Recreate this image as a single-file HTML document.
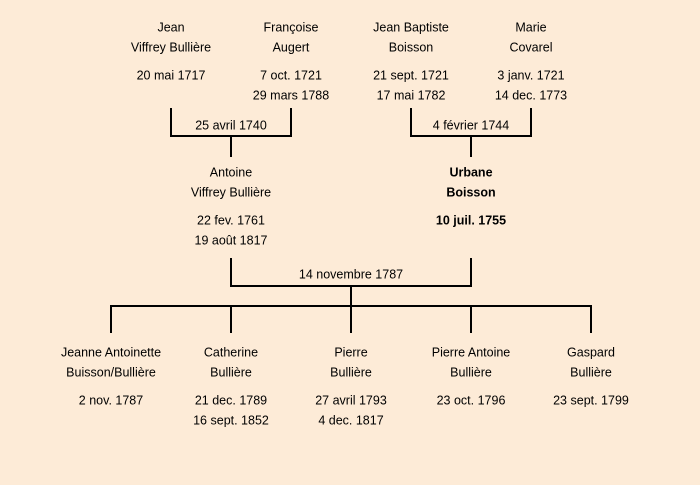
<!DOCTYPE html>
<html><head><meta charset="utf-8"><style>
html,body{margin:0;padding:0;background:#fdebd7;}
svg{display:block}
text{font-family:"Liberation Sans",sans-serif;font-size:12.5px;fill:#000;text-anchor:middle;dominant-baseline:middle}
.b{font-weight:bold}
</style></head><body>
<svg width="700" height="485" viewBox="0 0 700 485">
<rect width="700" height="485" fill="#fdebd7"/>
<g stroke="#000" stroke-width="2" fill="none">
<path d="M171 108V136H291V108M231 136V157"/>
<path d="M411 108V136H531V108M471 136V157"/>
<path d="M231 258V286H471V258M351 286V306"/>
<path d="M111 333V306H591V333M231 306V333M351 306V333M471 306V333"/>
</g>
<g transform="translate(0,1)">
<text x="171" y="27">Jean</text><text x="171" y="47">Viffrey Bullière</text><text x="171" y="75">20 mai 1717</text>
<text x="291" y="27">Françoise</text><text x="291" y="47">Augert</text><text x="291" y="75">7 oct. 1721</text><text x="291" y="95">29 mars 1788</text>
<text x="411" y="27">Jean Baptiste</text><text x="411" y="47">Boisson</text><text x="411" y="75">21 sept. 1721</text><text x="411" y="95">17 mai 1782</text>
<text x="531" y="27">Marie</text><text x="531" y="47">Covarel</text><text x="531" y="75">3 janv. 1721</text><text x="531" y="95">14 dec. 1773</text>
<text x="231" y="125">25 avril 1740</text>
<text x="471" y="125">4 février 1744</text>
<text x="231" y="172">Antoine</text><text x="231" y="192">Viffrey Bullière</text><text x="231" y="220">22 fev. 1761</text><text x="231" y="240">19 août 1817</text>
<text class="b" x="471" y="172">Urbane</text><text class="b" x="471" y="192">Boisson</text><text class="b" x="471" y="220">10 juil. 1755</text>
<text x="351" y="274">14 novembre 1787</text>
<text x="111" y="352">Jeanne Antoinette</text><text x="111" y="372">Buisson/Bullière</text><text x="111" y="400">2 nov. 1787</text>
<text x="231" y="352">Catherine</text><text x="231" y="372">Bullière</text><text x="231" y="400">21 dec. 1789</text><text x="231" y="420">16 sept. 1852</text>
<text x="351" y="352">Pierre</text><text x="351" y="372">Bullière</text><text x="351" y="400">27 avril 1793</text><text x="351" y="420">4 dec. 1817</text>
<text x="471" y="352">Pierre Antoine</text><text x="471" y="372">Bullière</text><text x="471" y="400">23 oct. 1796</text>
<text x="591" y="352">Gaspard</text><text x="591" y="372">Bullière</text><text x="591" y="400">23 sept. 1799</text>
</g>
</svg>
</body></html>
